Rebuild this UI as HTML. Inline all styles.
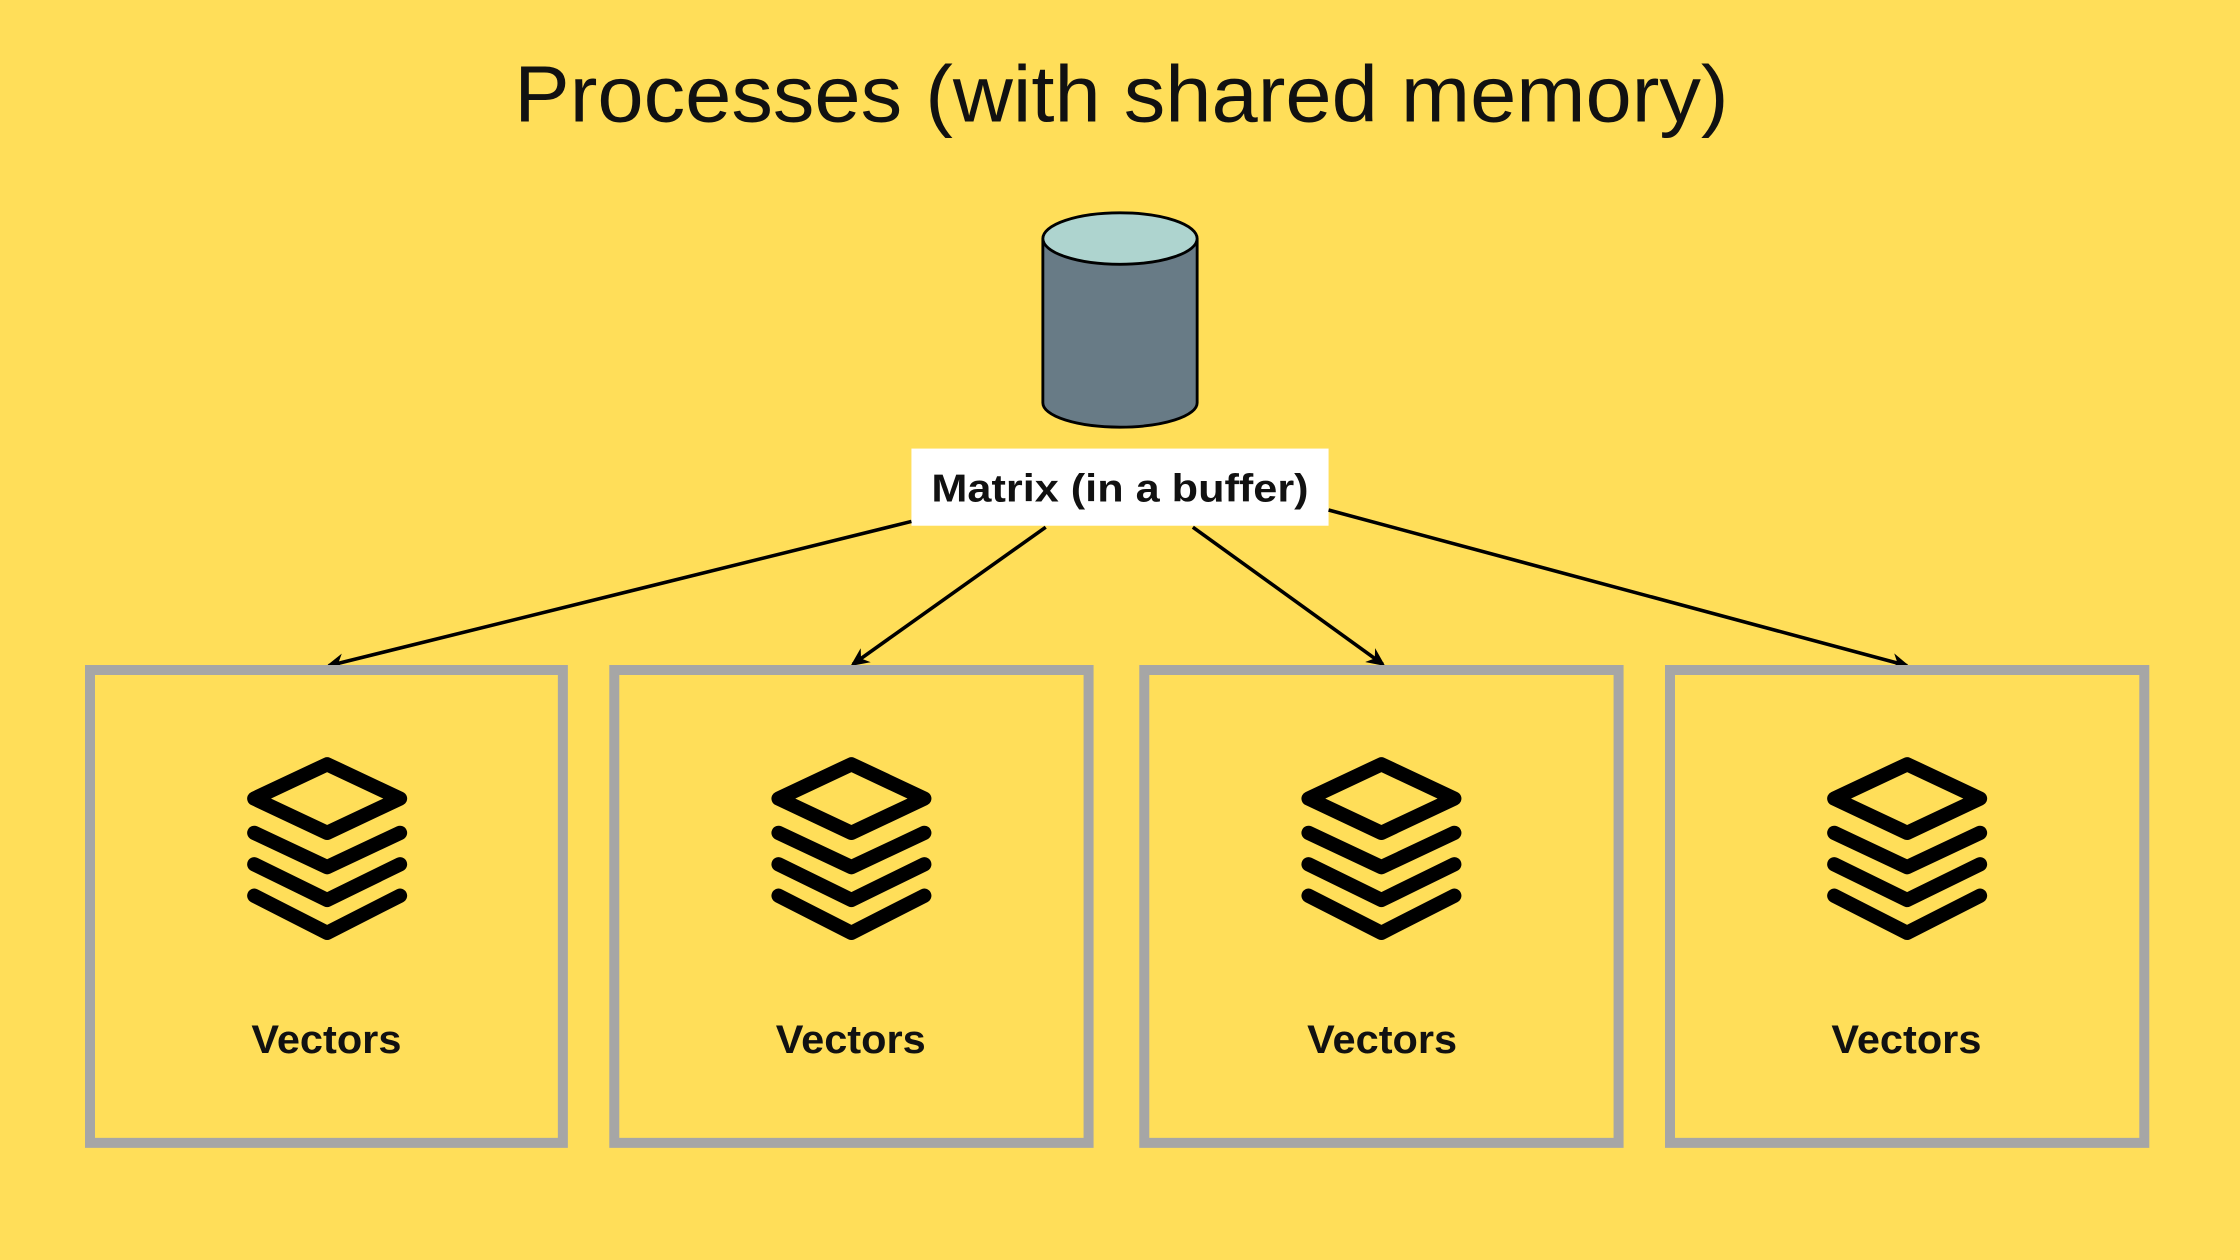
<!DOCTYPE html>
<html><head><meta charset="utf-8"><style>
html,body{margin:0;padding:0;background:#FFDE59;}
svg{display:block}
</style></head><body>
<svg width="2240" height="1260" viewBox="0 0 1568 882" xmlns="http://www.w3.org/2000/svg">
<defs>
<marker id="ah" markerWidth="14" markerHeight="12" refX="11" refY="6" orient="auto" markerUnits="userSpaceOnUse">
<path d="M0,0 L13,6 L0,12 L4,6 z" fill="#000"/>
</marker>
<g id="ic" fill="none" stroke="#000" stroke-width="10" stroke-linecap="round" stroke-linejoin="round">
<polygon points="0,-62 51,-38 0,-14 -51,-38"/>
<polyline points="-51,-14 0,10 51,-14"/>
<polyline points="-51,8 0,33 51,8"/>
<polyline points="-51,30 0,56 51,30"/>
</g>
</defs>
<rect width="1568" height="882" fill="#FFDE59"/>
<text x="360" y="85" textLength="850" lengthAdjust="spacingAndGlyphs" font-family="Liberation Sans, sans-serif" font-size="56" fill="#111">Processes (with shared memory)</text>
<path d="M730,167 L730,282 A54,17 0 0 0 838,282 L838,167" fill="#687B86" stroke="#000" stroke-width="2"/>
<ellipse cx="784" cy="167" rx="54" ry="18" fill="#AED4CF" stroke="#000" stroke-width="2"/>
<rect x="638" y="314" width="292" height="54" fill="#fff"/>
<text x="652" y="351" textLength="264" lengthAdjust="spacingAndGlyphs" font-family="Liberation Sans, sans-serif" font-weight="bold" font-size="27" fill="#111">Matrix (in a buffer)</text>
<g stroke="#000" stroke-width="2.5" marker-end="url(#ah)">
<line x1="638" y1="365" x2="230" y2="466"/>
<line x1="732" y1="369" x2="597" y2="465"/>
<line x1="835" y1="369" x2="968" y2="465"/>
<line x1="930" y1="357" x2="1335" y2="466"/>
</g>
<g fill="none" stroke="#A6A6A6" stroke-width="7">
<rect x="63" y="469" width="331" height="331"/>
<rect x="430" y="469" width="332" height="331"/>
<rect x="801" y="469" width="332" height="331"/>
<rect x="1169" y="469" width="332" height="331"/>
</g>
<use href="#ic" x="229" y="597"/>
<use href="#ic" x="596" y="597"/>
<use href="#ic" x="967" y="597"/>
<use href="#ic" x="1335" y="597"/>
<g font-family="Liberation Sans, sans-serif" font-weight="bold" font-size="28" fill="#111">
<text x="176" y="737" textLength="105" lengthAdjust="spacingAndGlyphs">Vectors</text>
<text x="543" y="737" textLength="105" lengthAdjust="spacingAndGlyphs">Vectors</text>
<text x="915" y="737" textLength="105" lengthAdjust="spacingAndGlyphs">Vectors</text>
<text x="1282" y="737" textLength="105" lengthAdjust="spacingAndGlyphs">Vectors</text>
</g>
</svg>
</body></html>
